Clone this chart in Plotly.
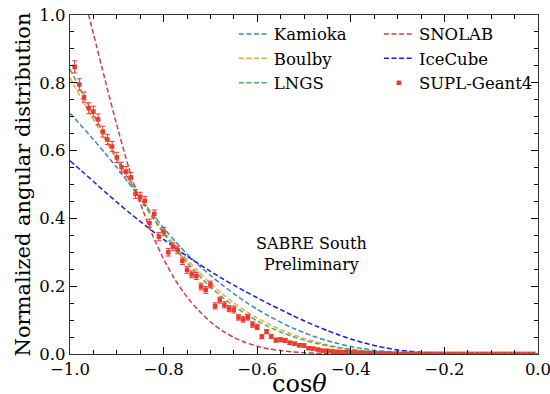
import plotly.graph_objects as go

# ---------------- data ----------------
curve_x = [-1.000, -0.975, -0.950, -0.925, -0.900, -0.875, -0.850, -0.825, -0.800, -0.775,
           -0.750, -0.725, -0.700, -0.675, -0.650, -0.625, -0.600, -0.575, -0.550, -0.525,
           -0.500, -0.475, -0.450, -0.425, -0.400, -0.375, -0.350, -0.325, -0.300, -0.275,
           -0.250, -0.225, -0.200, -0.175, -0.150, -0.125, -0.100, -0.075, -0.050, -0.025, 0.000]

kamioka = [0.710, 0.672, 0.633, 0.592, 0.550, 0.505, 0.460, 0.415, 0.372, 0.332,
           0.295, 0.262, 0.232, 0.204, 0.178, 0.154, 0.132, 0.112, 0.094, 0.077,
           0.063, 0.050, 0.039, 0.030, 0.022, 0.016, 0.011, 0.0075, 0.005, 0.0032,
           0.002, 0.0012, 0.0007, 0.0004, 0.0002, 0.0001, 0.0, 0.0, 0.0, 0.0, 0.0]

boulby = [0.815, 0.752, 0.692, 0.632, 0.573, 0.516, 0.461, 0.409, 0.362, 0.319,
          0.279, 0.242, 0.208, 0.178, 0.151, 0.127, 0.106, 0.088, 0.072, 0.058,
          0.046, 0.036, 0.027, 0.020, 0.015, 0.010, 0.007, 0.0045, 0.003, 0.0018,
          0.001, 0.0006, 0.0003, 0.0001, 0.0, 0.0, 0.0, 0.0, 0.0, 0.0, 0.0]

lngs = [0.840, 0.772, 0.706, 0.641, 0.578, 0.517, 0.459, 0.405, 0.356, 0.311,
        0.270, 0.232, 0.198, 0.168, 0.142, 0.118, 0.098, 0.080, 0.065, 0.052,
        0.041, 0.032, 0.024, 0.018, 0.013, 0.009, 0.006, 0.004, 0.0025, 0.0015,
        0.0009, 0.0005, 0.0003, 0.0001, 0.0, 0.0, 0.0, 0.0, 0.0, 0.0, 0.0]

snolab = [1.220, 1.080, 0.945, 0.808, 0.675, 0.552, 0.445, 0.355, 0.280, 0.218,
          0.168, 0.128, 0.095, 0.069, 0.049, 0.034, 0.023, 0.015, 0.010, 0.0065,
          0.004, 0.0025, 0.0015, 0.0009, 0.0005, 0.0003, 0.00015, 0.0001, 0.0, 0.0,
          0.0, 0.0, 0.0, 0.0, 0.0, 0.0, 0.0, 0.0, 0.0, 0.0, 0.0]

icecube = [0.570, 0.540, 0.509, 0.478, 0.448, 0.419, 0.391, 0.364, 0.338, 0.313,
           0.289, 0.266, 0.244, 0.223, 0.203, 0.184, 0.166, 0.148, 0.131, 0.114,
           0.098, 0.083, 0.069, 0.056, 0.044, 0.034, 0.025, 0.018, 0.012, 0.008,
           0.005, 0.003, 0.0018, 0.001, 0.0005, 0.0002, 0.0001, 0.0, 0.0, 0.0, 0.0]

data_x = [round(-0.99 + 0.01 * k, 2) for k in range(99)]
data_y = [0.847, 0.795, 0.757, 0.725, 0.715, 0.692, 0.656, 0.633, 0.612, 0.580,
          0.551, 0.538, 0.521, 0.472, 0.464, 0.452, 0.386, 0.413, 0.346, 0.361,
          0.300, 0.317, 0.307, 0.275, 0.248, 0.235, 0.230, 0.199, 0.189, 0.205,
          0.142, 0.159, 0.145, 0.134, 0.130, 0.108, 0.102, 0.108, 0.087, 0.080,
          0.051, 0.066, 0.052, 0.041, 0.042, 0.040, 0.033, 0.030, 0.026, 0.025,
          0.017, 0.016, 0.013, 0.010, 0.010, 0.008, 0.007, 0.006, 0.006, 0.005,
          0.004, 0.004, 0.003, 0.003, 0.002, 0.002, 0.002, 0.0015, 0.001, 0.001,
          0.0008, 0.0008, 0.0008, 0.0008, 0.0008, 0.0008, 0.0008, 0.0008, 0.0008, 0.0008,
          0.0005, 0.0005, 0.0005, 0.0005, 0.0005, 0.0005, 0.0005, 0.0005, 0.0005, 0.0005,
          0.0005, 0.0005, 0.0005, 0.0005, 0.0005, 0.0005, 0.0005, 0.0005, 0.0005]
data_err = [0.018, 0.017, 0.016, 0.016, 0.016, 0.016, 0.016, 0.015, 0.015, 0.015,
            0.015, 0.015, 0.014, 0.013, 0.013, 0.013, 0.012, 0.012, 0.012, 0.012,
            0.011, 0.011, 0.011, 0.011, 0.010, 0.010, 0.010, 0.010, 0.010, 0.010,
            0.009, 0.009, 0.009, 0.009, 0.009, 0.008, 0.008, 0.008, 0.008, 0.008,
            0.006, 0.006, 0.006, 0.006, 0.006, 0.006, 0.005, 0.005, 0.005, 0.005,
            0.004, 0.004, 0.004, 0.003, 0.003, 0.003, 0.003, 0.003, 0.003, 0.003,
            0.002, 0.002, 0.002, 0.002, 0.002, 0.002, 0.002, 0.002, 0.001, 0.001,
            0.001, 0.001, 0.001, 0.001, 0.001, 0.001, 0.001, 0.001, 0.001, 0.001,
            0.001, 0.001, 0.001, 0.001, 0.001, 0.001, 0.001, 0.001, 0.001, 0.001,
            0.001, 0.001, 0.001, 0.001, 0.001, 0.001, 0.001, 0.001, 0.001]

x_ticks = [-1.0, -0.8, -0.6, -0.4, -0.2, 0.0]
x_tick_text = ["\u22121.0", "\u22120.8", "\u22120.6", "\u22120.4", "\u22120.2", "0.0"]
y_ticks = [0.0, 0.2, 0.4, 0.6, 0.8, 1.0]
y_tick_text = ["0.0", "0.2", "0.4", "0.6", "0.8", "1.0"]

# ---------------- figure ----------------
FONT = "DejaVu Serif"
DASH = "5px,2.6px"

fig = go.Figure()

def curve(name, y, color, legend):
    fig.add_trace(go.Scatter(x=curve_x, y=y, mode="lines", name=name,
                             line=dict(color=color, width=1.5, dash=DASH, shape="spline", smoothing=0.5),
                             legend=legend))

curve("Kamioka", kamioka, "#3d85c6", "legend")
curve("Boulby", boulby, "#f5a04f", "legend")
curve("LNGS", lngs, "#4fae4f", "legend")
curve("SNOLAB", snolab, "#cc4040", "legend2")
curve("IceCube", icecube, "#1a1ae0", "legend2")

fig.add_trace(go.Scatter(x=data_x, y=data_y, mode="markers", name="SUPL-Geant4",
                         marker=dict(symbol="square", size=4.5, color="#ea3a2c"),
                         error_y=dict(type="data", array=data_err, color="#ea3a2c", thickness=1, width=2.5),
                         legend="legend2"))

fig.add_annotation(x=-0.485, y=0.295, xref="x", yref="y", showarrow=False,
                   text="SABRE South<br>Preliminary", align="center",
                   font=dict(family=FONT, size=16, color="black"))

# x-axis title (placed as an annotation so it can sit lower than plotly's title box allows)
fig.add_annotation(x=0.491, y=-0.136, xref="paper", yref="paper", showarrow=False,
                   xanchor="center", yanchor="bottom", text="cos<i>θ</i>",
                   font=dict(family=FONT, size=24, color="black"))

axis_common = dict(showgrid=False, zeroline=False, ticks="inside", ticklen=7, tickwidth=1.2,
                   tickcolor="black", showline=True, linecolor="#333333", linewidth=1.2,
                   mirror="ticks", automargin=False, ticklabeloverflow="allow",
                   tickfont=dict(family=FONT, size=16.5, color="black"))

fig.update_xaxes(range=[-1.0, 0.0], tickvals=x_ticks, ticktext=x_tick_text,
                 minor=dict(dtick=0.05, ticks="inside", ticklen=4, tickcolor="black", tickwidth=1),
                 **axis_common)
fig.update_yaxes(range=[0.0, 1.0], tickvals=y_ticks, ticktext=y_tick_text,
                 minor=dict(dtick=0.05, ticks="inside", ticklen=4, tickcolor="black", tickwidth=1),
                 title=dict(text="Normalized angular distribution", font=dict(family=FONT, size=21, color="black"), standoff=2),
                 **axis_common)

legend_common = dict(bgcolor="rgba(0,0,0,0)", borderwidth=0,
                     font=dict(family=FONT, size=16.5, color="black"),
                     xanchor="left", yanchor="top", itemwidth=30, tracegroupgap=0)

fig.update_layout(
    width=550, height=394,
    margin=dict(l=70, r=12, t=15, b=40),
    paper_bgcolor="white", plot_bgcolor="white",
    font=dict(family=FONT, color="black"),
    legend=dict(x=0.35, y=0.995, **legend_common),
    legend2=dict(x=0.66, y=0.995, **legend_common),
)

fig.write_html("out.html", config={"displayModeBar": False},
               post_script="document.body.style.margin='0';document.body.style.overflow='hidden';")
